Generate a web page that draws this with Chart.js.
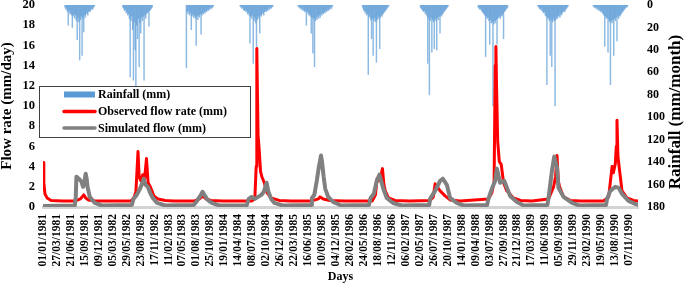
<!DOCTYPE html>
<html>
<head>
<meta charset="utf-8">
<script src="https://cdn.jsdelivr.net/npm/chart.js@4.4.1/dist/chart.umd.min.js"></script>
<style>
html,body{margin:0;padding:0;background:#fff;}
#wrap{position:relative;width:685px;height:284px;}
canvas{display:block;}
</style>
</head>
<body>
<div id="wrap"><canvas id="c" width="685" height="284"></canvas></div>
<script>
// ---------- DATA ----------
const xTickLabels = ["01/01/1981","27/03/1981","21/06/1981","15/09/1981","09/12/1981","05/03/1982","29/05/1982","23/08/1982","17/11/1982","11/02/1983","07/05/1983","01/08/1983","25/10/1983","19/01/1984","14/04/1984","08/07/1984","02/10/1984","26/12/1984","22/03/1985","16/06/1985","10/09/1985","04/12/1985","28/02/1986","24/05/1986","18/08/1986","12/11/1986","06/02/1987","02/05/1987","26/07/1987","20/10/1987","14/01/1988","09/04/1988","03/07/1988","27/09/1988","21/12/1988","17/03/1989","11/06/1989","05/09/1989","29/11/1989","23/02/1990","19/05/1990","13/08/1990","07/11/1990"];
const flowTicks = [0,2,4,6,8,10,12,14,16,18,20];
const rainTicks = [0,20,40,60,80,100,120,140,160,180];

// observed flow (days since 01/01/1981, mm/day)
const obsDay = [0,5,12,25,50,120,200,230,250,262,280,320,400,540,557,570,583,590,600,612,622,635,645,661,680,705,750,800,930,960,980,1000,1030,1100,1280,1300,1308,1312,1316,1320,1326,1335,1343,1358,1375,1400,1450,1520,1650,1690,1700,1720,1760,1850,2020,2040,2050,2062,2075,2083,2092,2100,2120,2160,2250,2375,2395,2406,2415,2437,2467,2500,2560,2733,2754,2768,2775,2779,2783,2790,2800,2812,2826,2846,2887,2930,3000,3102,3133,3145,3154,3162,3170,3194,3235,3300,3440,3471,3485,3492,3500,3512,3518,3522,3528,3538,3553,3583,3624,3651];
const obsFlow = [4.4,2.4,1.3,0.9,0.65,0.6,0.6,0.8,1.2,0.9,0.7,0.6,0.6,0.6,0.9,1.5,5.5,3.0,2.6,3.2,2.6,4.8,2.4,1.9,1.1,0.8,0.65,0.6,0.6,0.8,1.1,0.8,0.65,0.6,0.6,0.8,4.0,15.7,11.0,7.0,5.8,3.5,3.0,2.4,1.4,0.9,0.65,0.6,0.6,0.8,1.0,0.8,0.65,0.6,0.6,1.2,2.8,2.6,3.2,3.8,2.2,1.6,0.9,0.65,0.6,0.65,1.0,2.3,2.1,1.6,1.1,0.7,0.6,0.8,1.4,2.5,14.0,15.9,12.0,6.5,4.5,4.2,2.4,1.6,0.9,0.65,0.6,0.8,2.0,3.0,5.1,2.6,2.0,1.0,0.65,0.6,0.6,1.0,3.0,4.0,3.4,4.3,6.0,8.6,5.0,3.6,1.6,0.9,0.65,0.6];

// simulated flow (days since 01/01/1981, mm/day)
const simDay = [0,195,201,205,213,221,236,246,255,262,268,273,287,318,360,545,555,575,595,610,618,628,643,660,674,700,750,925,945,965,979,990,1010,1036,1080,1250,1262,1280,1300,1320,1340,1355,1372,1382,1400,1420,1470,1645,1650,1665,1680,1692,1706,1712,1722,1732,1750,1780,1830,2000,2010,2030,2048,2064,2075,2088,2109,2148,2200,2370,2375,2406,2437,2453,2478,2498,2539,2580,2725,2733,2754,2775,2785,2805,2830,2866,2908,2950,3095,3102,3123,3137,3154,3163,3194,3246,3290,3455,3461,3481,3512,3532,3553,3593,3634,3651];
const simFlow = [0.1,0.15,1.0,3.0,2.9,2.8,2.5,2.0,2.6,3.3,2.8,2.0,1.0,0.4,0.15,0.2,0.8,1.2,1.8,2.4,2.8,2.2,2.0,1.3,0.9,0.4,0.15,0.2,0.6,1.1,1.5,1.2,0.7,0.4,0.15,0.15,0.8,1.0,0.8,1.0,1.2,1.5,2.4,1.6,0.8,0.4,0.15,0.2,0.9,1.2,2.6,3.9,5.1,4.5,3.0,1.8,1.0,0.5,0.15,0.2,0.9,1.3,2.6,3.2,2.6,1.8,0.9,0.4,0.15,0.2,0.8,1.6,2.6,2.8,2.2,0.9,0.4,0.15,0.2,0.8,1.8,2.6,3.8,2.4,2.6,1.1,0.5,0.15,0.2,0.9,3.6,5.0,3.9,1.9,1.0,0.4,0.15,0.2,0.8,1.6,2.0,1.9,1.3,0.6,0.3,0.25];

// rainfall: wet-season values every 5 days, starting at the given day-of-year
const rainYears = [1981,1982,1983,1984,1985,1986,1987,1988,1989,1990];
const rainStartDoy = [135,125,150,115,105,135,125,115,115,90];
const rainStepDays = 5;
const rain1981 = [2,4,3,6,18,5,8,7,9,20,10,8,12,9,14,31,11,15,49,13,10,45,12,24,9,11,8,7,9,6,5,6,4,3,4,2,1];
const rain1982 = [2,3,5,4,7,6,9,8,12,64,14,10,22,67,15,40,75,18,30,12,55,16,25,11,14,10,67,9,12,8,7,6,19,5,4,3,2];
const rain1983 = [56,6,8,5,9,7,22,10,8,11,9,12,36,10,13,9,11,8,26,9,7,8,6,7,5,6,4,5,3,4,2,3,2,1];
const rain1984 = [1,2,3,2,4,5,4,6,5,8,7,9,34,10,12,9,52,14,11,16,37,13,10,12,25,9,10,8,7,9,6,5,6,4,5,3,4,2,3,2,1];
const rain1985 = [1,2,3,2,4,3,5,4,6,5,18,7,6,9,8,10,25,11,43,12,55,14,11,13,10,12,9,11,8,9,7,8,6,7,5,6,4,5,3,4,2,3,1];
const rain1986 = [2,4,5,7,6,9,8,62,11,9,13,30,12,45,14,11,15,51,13,10,12,39,11,9,10,8,7,6,5,4,3,2,1];
const rain1987 = [2,3,4,5,6,5,8,7,10,52,12,80,14,11,42,13,15,39,12,14,40,11,13,10,25,9,10,8,7,6,5,4,3,2,1];
const rain1988 = [2,3,4,3,5,6,7,8,9,46,10,12,11,14,35,13,16,15,90,17,14,16,13,35,12,11,10,12,9,10,8,30,6,5,4,3,2];
const rain1989 = [1,2,3,4,3,5,6,7,6,9,10,71,12,11,14,45,13,55,15,12,14,90,13,11,12,10,9,11,8,9,7,6,5,6,4,3,2,1];
const rain1990 = [1,2,2,3,2,4,3,5,4,6,5,7,8,9,37,10,12,11,42,13,15,71,14,16,13,45,12,14,11,32,10,12,9,10,8,7,6,5,4,3,2,2,1];
const rainByYear = [rain1981,rain1982,rain1983,rain1984,rain1985,rain1986,rain1987,rain1988,rain1989,rain1990];

// ---------- BUILD ----------
function dayOf(s){
  const p = s.split('/').map(Number);
  return Math.round((Date.UTC(p[2],p[1]-1,p[0]) - Date.UTC(1981,0,1))/86400000);
}
const tickDays = xTickLabels.map(dayOf);
const lastDay = dayOf('31/12/1990');

const rainData = [];
rainYears.forEach((yr,k)=>{
  const y0 = dayOf('01/01/'+yr);
  rainByYear[k].forEach((v,i)=>rainData.push({x:y0+rainStartDoy[k]+i*rainStepDays, y:v}));
});
const obsData = obsDay.map((d,i)=>({x:d,y:obsFlow[i]}));
const simData = simDay.map((d,i)=>({x:d,y:simFlow[i]}));

const FONT = "'Liberation Serif','Times New Roman',serif";

const legendPlugin = {
  id:'boxLegend',
  afterDatasetsDraw(chart){
    const ctx = chart.ctx;
    const ds = chart.data.datasets;
    ctx.save();
    ctx.fillStyle = '#ffffff';
    ctx.fillRect(39.5,86.5,211,51);
    ctx.strokeStyle = '#404040';
    ctx.lineWidth = 1;
    ctx.strokeRect(39.5,86.5,211,51);
    const rows = [
      {ds:ds[2], y:94.5, kind:'box'},
      {ds:ds[1], y:111.5, kind:'line'},
      {ds:ds[0], y:128, kind:'line'}
    ];
    ctx.font = "bold 12px " + FONT;
    ctx.textBaseline = 'middle';
    ctx.textAlign = 'left';
    rows.forEach(r=>{
      if(r.kind==='box'){
        ctx.fillStyle = '#5b9bd5';
        ctx.fillRect(64,r.y-3,31,6);
      } else {
        ctx.strokeStyle = r.ds.borderColor;
        ctx.lineWidth = 3.5;
        ctx.lineCap = 'round';
        ctx.beginPath();
        ctx.moveTo(64,r.y);
        ctx.lineTo(95,r.y);
        ctx.stroke();
      }
      ctx.fillStyle = '#000';
      ctx.fillText(r.ds.label,98,r.y+0.5);
    });
    ctx.restore();
  }
};

const rightTitlePlugin = {
  id:'rightTitle',
  afterDraw(chart){
    const ctx = chart.ctx;
    ctx.save();
    ctx.translate(676,112);
    ctx.rotate(-Math.PI/2);
    ctx.font = "bold 17px " + FONT;
    ctx.fillStyle = '#000';
    ctx.textAlign = 'center';
    ctx.textBaseline = 'middle';
    ctx.fillText('Rainfall (mm/month)',0,0);
    ctx.restore();
  }
};

function noPad(s){ s.paddingTop = 0; s.paddingBottom = 0; }

new Chart(document.getElementById('c'),{
  type:'line',
  data:{
    datasets:[
      {label:'Simulated flow (mm)', data:simData, yAxisID:'y', borderColor:'#808080', backgroundColor:'#808080', borderWidth:4, pointRadius:0, tension:0, borderJoinStyle:'round', borderCapStyle:'round', order:0},
      {label:'Observed flow rate (mm)', data:obsData, yAxisID:'y', borderColor:'#ff0000', backgroundColor:'#ff0000', borderWidth:3, pointRadius:0, tension:0, borderJoinStyle:'round', borderCapStyle:'round', order:1},
      {type:'bar', label:'Rainfall (mm)', data:rainData, yAxisID:'yR', backgroundColor:'rgba(91,155,213,0.7)', barThickness:0.8, grouped:false, order:2}
    ]
  },
  options:{
    responsive:false,
    animation:false,
    devicePixelRatio:1,
    layout:{padding:{top:5,left:0,right:0,bottom:0}},
    plugins:{legend:{display:false}, tooltip:{enabled:false}},
    scales:{
      x:{
        type:'linear', min:0, max:lastDay, offset:false,
        grid:{display:false, drawTicks:false},
        border:{display:true, color:'#d4d4d4', width:3},
        afterBuildTicks:(s)=>{ s.ticks = tickDays.map(v=>({value:v})); },
        afterFit:(s)=>{ s.height = 77; s.paddingLeft = 0; s.paddingRight = 0; },
        ticks:{autoSkip:false, minRotation:90, maxRotation:90, padding:7, color:'#000',
          font:{family:FONT, size:11.5, weight:'bold'},
          callback:(v,i)=>xTickLabels[i]},
        title:{display:true, text:'Days', color:'#000', font:{family:FONT, size:12, weight:'bold'}, padding:{top:0,bottom:0}}
      },
      y:{
        position:'left', min:0, max:20,
        grid:{display:false, drawTicks:false},
        border:{display:false},
        afterBuildTicks:(s)=>{ s.ticks = flowTicks.map(v=>({value:v})); },
        afterFit:(s)=>{ s.width = 43; noPad(s); },
        ticks:{padding:8, color:'#000', font:{family:FONT, size:12.5, weight:'bold'}},
        title:{display:true, text:'Flow rate (mm/day)', color:'#000', font:{family:FONT, size:15, weight:'bold', lineHeight:1}, padding:0}
      },
      yR:{
        position:'right', min:0, max:180, reverse:true,
        grid:{display:false, drawTicks:false},
        border:{display:false},
        afterBuildTicks:(s)=>{ s.ticks = rainTicks.map(v=>({value:v})); },
        afterFit:(s)=>{ s.width = 47; noPad(s); },
        ticks:{padding:9, color:'#000', font:{family:FONT, size:12, weight:'bold'}}
      }
    }
  },
  plugins:[legendPlugin, rightTitlePlugin]
});
</script>
</body>
</html>
